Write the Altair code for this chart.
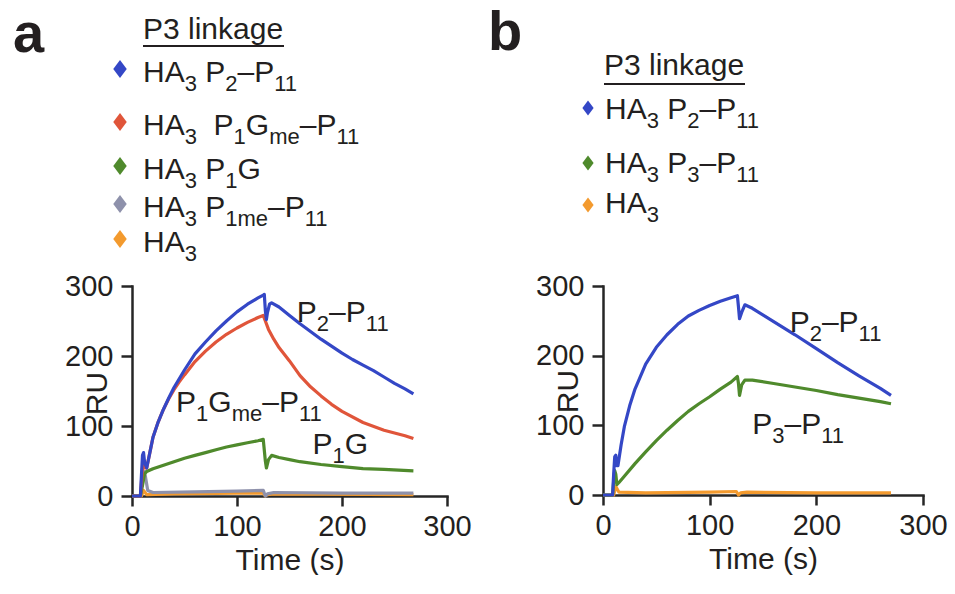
import re
import altair as alt
import pandas as pd

# ---------------- data ----------------
# Text uses _{...} to mark subscripts.
# Panel a
A_LABELS = ["HA_{3} P_{2}–P_{11}", "HA_{3}  P_{1}G_{me}–P_{11}", "HA_{3} P_{1}G",
            "HA_{3} P_{1me}–P_{11}", "HA_{3}"]
A_COLORS = ["#3447c6", "#e0553a", "#4f8a2c", "#8e91ab", "#f39a2e"]
A_ANNOT = ["P_{2}–P_{11}", "P_{1}G_{me}–P_{11}", "P_{1}G"]

a_blue_t = [0, 8, 9, 10, 11, 12, 14, 17, 20, 25, 30, 35, 40, 50, 60, 70, 80, 90, 100, 110,
            120, 125, 126, 127, 128, 129, 131, 133, 140, 150, 160, 170, 180, 190, 200, 210,
            220, 230, 240, 250, 260, 268]
a_blue_y = [0, 0, 30, 58, 62, 48, 40, 62, 84, 106, 124, 140, 155, 180, 203, 220, 236, 250, 263, 274,
            283, 287, 288, 265, 252, 262, 274, 276, 270, 258, 246, 235, 224, 214, 204, 195,
            187, 179, 170, 161, 153, 146]

a_red_t = [0, 8, 9, 10, 11, 12, 14, 17, 20, 25, 30, 35, 40, 45, 50, 60, 70, 80, 90, 100,
           110, 120, 125, 127, 130, 135, 140, 150, 160, 170, 180, 190, 200, 220, 240, 260, 268]
a_red_y = [0, 0, 20, 40, 45, 40, 40, 62, 84, 106, 124, 139, 152, 163, 173, 192, 207, 220, 231, 240,
           248, 255, 258, 250, 238, 224, 212, 193, 172, 156, 143, 131, 121, 105, 94, 86, 82]

a_green_t = [0, 8, 10, 12, 14, 20, 30, 40, 50, 60, 70, 80, 90, 100, 110, 120, 125, 127, 128, 130,
             133, 140, 150, 160, 180, 200, 220, 240, 268]
a_green_y = [0, 0, 15, 32, 35, 39, 44, 49, 54, 58, 62, 66, 70, 73, 76, 79, 81, 50, 40, 52,
             58, 55, 52, 49, 45, 42, 39, 38, 36]

a_gray_t = [0, 8, 10, 12, 15, 20, 60, 100, 125, 127, 129, 135, 200, 268]
a_gray_y = [0, 0, 25, 35, 8, 5, 6, 7, 8, 0, 3, 5, 4, 4]

a_orange_t = [0, 9, 11, 14, 40, 100, 125, 127, 129, 135, 268]
a_orange_y = [0, 0, 8, 2, 3, 4, 4, 0, 2, 3, 2]

# Panel b
B_LABELS = ["HA_{3} P_{2}–P_{11}", "HA_{3} P_{3}–P_{11}", "HA_{3}"]
B_COLORS = ["#3447c6", "#4f8a2c", "#f39a2e"]
B_ANNOT = ["P_{2}–P_{11}", "P_{3}–P_{11}"]

b_blue_t = [0, 9, 10, 11, 12, 13, 14, 17, 20, 25, 30, 40, 50, 60, 70, 80, 90, 100, 110, 120,
            126, 127, 128, 130, 133, 140, 160, 180, 200, 220, 240, 260, 270]
b_blue_y = [0, 0, 30, 55, 57, 42, 42, 72, 98, 128, 152, 188, 212, 230, 245, 257, 265, 272, 278, 283,
            286, 270, 253, 262, 273, 268, 249, 230, 210, 190, 171, 153, 143]

b_green_t = [0, 9, 10, 11, 12, 13, 15, 20, 30, 40, 50, 60, 70, 80, 90, 100, 110, 120, 126, 127,
             128, 130, 133, 140, 160, 180, 200, 220, 240, 260, 270]
b_green_y = [0, 0, 20, 35, 30, 15, 18, 27, 45, 62, 78, 93, 107, 120, 131, 141, 152, 162, 170, 160,
             143, 158, 165, 165, 160, 155, 150, 144, 139, 134, 131]

b_orange_t = [0, 10, 12, 15, 40, 100, 125, 127, 129, 135, 200, 270]
b_orange_y = [0, 0, 12, 4, 3, 4, 5, 0, 3, 4, 3, 3]

TICKS = [0, 100, 200, 300]

# ---------------- style ----------------
FONT = "Liberation Sans, Arial, DejaVu Sans, sans-serif"
TXT = "#231f20"
AX = "#262626"
FS = 30
SUB = 22
SUB_DY = 9
DIAMOND = "M0,-1L0.75,0L0,1L-0.75,0Z"
# Arial / Liberation Sans advance widths (per 1000 em)
ADV = {" ": 278, "–": 556, "A": 667, "G": 778, "H": 722, "P": 667, "m": 833, "e": 556}


def adv(s, size):
    return sum(ADV.get(c, 556) for c in s) * size / 1000.0


def parse(label):
    parts, pos = [], 0
    for m in re.finditer(r"_\{([^}]*)\}", label):
        if m.start() > pos:
            parts.append((label[pos:m.start()], False))
        parts.append((m.group(1), True))
        pos = m.end()
    if pos < len(label):
        parts.append((label[pos:], False))
    return parts


def pieces(label):
    """Yield (text, size, dy, x-offset) with whitespace turned into offsets."""
    off = 0.0
    for seg, sub in parse(label):
        size = SUB if sub else FS
        lead = len(seg) - len(seg.lstrip(" "))
        core = seg.strip(" ")
        trail = len(seg) - lead - len(core)
        off += adv(" " * lead, size)
        if core:
            yield core, size, (SUB_DY if sub else 0), off
        off += adv(core, size) + adv(" " * trail, size)


def axes(width, height, ytitle_y):
    xa = alt.Axis(values=TICKS, title="Time (s)", grid=False, domainWidth=2.5, domainColor=AX,
                  domainCap="square", tickColor=AX, tickWidth=2.5, tickSize=10, labelFont=FONT,
                  labelFontSize=29, labelColor=TXT, labelPadding=6, labelFlush=False,
                  labelOverlap=False, titleFont=FONT, titleFontSize=FS, titleFontWeight="normal",
                  titleColor=TXT, titleX=width / 2, titleY=73, titleBaseline="alphabetic",
                  titleAlign="center")
    ya = alt.Axis(values=TICKS, title="RU", grid=False, domainWidth=2.5, domainColor=AX,
                  domainCap="square", tickColor=AX, tickWidth=2.5, tickSize=11, labelFont=FONT,
                  labelFontSize=29, labelColor=TXT, labelPadding=8, labelFlush=False,
                  labelOverlap=False, titleFont=FONT, titleFontSize=FS, titleFontWeight="normal",
                  titleColor=TXT, titleX=-26, titleY=ytitle_y, titleAngle=270,
                  titleBaseline="alphabetic", titleAlign="center")
    return xa, ya


def xy(xa, ya):
    return dict(
        x=alt.X("t:Q", scale=alt.Scale(domain=[0, 300], nice=False), axis=xa),
        y=alt.Y("ru:Q", scale=alt.Scale(domain=[0, 300], nice=False), axis=ya))


def line_layer(t, y, color, xa, ya):
    df = pd.DataFrame({"t": t, "ru": y})
    return alt.Chart(df).mark_line(color=color, strokeWidth=3.2, strokeJoin="round").encode(
        **xy(xa, ya))


def text_layer(s, x, y, size=FS, weight="normal"):
    return alt.Chart(pd.DataFrame({"s": [s]})).mark_text(
        font=FONT, fontSize=size, fontWeight=weight, color=TXT, align="left",
        baseline="alphabetic").encode(text="s:N", x=alt.value(x), y=alt.value(y))


def rich_pixel(label, x0, y0):
    return [text_layer(txt, x0 + off, y0 + dy, size=size)
            for txt, size, dy, off in pieces(label)]


def rich_data(label, t, ru, xa, ya):
    df = pd.DataFrame({"t": [t], "ru": [ru]})
    return [alt.Chart(df).mark_text(
        font=FONT, fontSize=size, color=TXT, align="left", baseline="alphabetic",
        dx=off, dy=dy, text=txt).encode(**xy(xa, ya))
        for txt, size, dy, off in pieces(label)]


def legend_layers(labels, colors, layout):
    out = [text_layer("P3 linkage", layout["title_x"], layout["title_y"])]
    out.append(alt.Chart(pd.DataFrame({"s": ["u"]})).mark_rule(color=TXT, strokeWidth=2).encode(
        x=alt.value(layout["title_x"]), x2=alt.value(layout["title_x"] + 141),
        y=alt.value(layout["under_y"])))
    for lab, col, dy, ty in zip(labels, colors, layout["diamond_y"], layout["text_y"]):
        out.append(alt.Chart(pd.DataFrame({"s": [lab]})).mark_point(
            shape=DIAMOND, filled=True, opacity=1, size=layout["dsize"], color=col).encode(
            x=alt.value(layout["diamond_x"]), y=alt.value(dy)))
        out += rich_pixel(lab, layout["text_x"], ty)
    return out


# ---------------- panel a ----------------
WA, HA = 315, 210
xa_a, ya_a = axes(WA, HA, 107)
layers_a = [
    line_layer(a_orange_t, a_orange_y, A_COLORS[4], xa_a, ya_a),
    line_layer(a_gray_t, a_gray_y, A_COLORS[3], xa_a, ya_a),
    line_layer(a_green_t, a_green_y, A_COLORS[2], xa_a, ya_a),
    line_layer(a_red_t, a_red_y, A_COLORS[1], xa_a, ya_a),
    line_layer(a_blue_t, a_blue_y, A_COLORS[0], xa_a, ya_a),
    text_layer("a", -119, -234, size=56, weight="bold"),
]
for lab, (t, ru) in zip(A_ANNOT, [(157, 249), (42, 120), (172, 60)]):
    layers_a += rich_data(lab, t, ru, xa_a, ya_a)
layout_a = {"title_x": 11, "title_y": -247, "under_y": -240, "diamond_x": -12,
            "diamond_y": [-217, -164, -120, -82, -47],
            "text_x": 11, "text_y": [-204, -151, -107, -69, -34], "dsize": 324}
layers_a += legend_layers(A_LABELS, A_COLORS, layout_a)
panel_a = alt.layer(*layers_a).properties(width=WA, height=HA)

# ---------------- panel b ----------------
WB, HB = 320, 209
xa_b, ya_b = axes(WB, HB, 105)
layers_b = [
    line_layer(b_orange_t, b_orange_y, B_COLORS[2], xa_b, ya_b),
    line_layer(b_green_t, b_green_y, B_COLORS[1], xa_b, ya_b),
    line_layer(b_blue_t, b_blue_y, B_COLORS[0], xa_b, ya_b),
    text_layer("b", -115, -236, size=56, weight="bold"),
]
for lab, (t, ru) in zip(B_ANNOT, [(175, 234), (140, 88)]):
    layers_b += rich_data(lab, t, ru, xa_b, ya_b)
layout_b = {"title_x": 1, "title_y": -211, "under_y": -202, "diamond_x": -15,
            "diamond_y": [-178, -123, -81],
            "text_x": 2, "text_y": [-167, -113, -73], "dsize": 225}
layers_b += legend_layers(B_LABELS, B_COLORS, layout_b)
panel_b = alt.layer(*layers_b).properties(width=WB, height=HB)

chart = alt.hconcat(panel_a, panel_b, spacing=156, bounds="flush").configure_view(
    stroke=None).properties(padding={"left": 13, "top": 5, "right": 0, "bottom": 0},
                            background="white")

chart.save("out.html", embed_options={"renderer": "svg", "actions": False})
